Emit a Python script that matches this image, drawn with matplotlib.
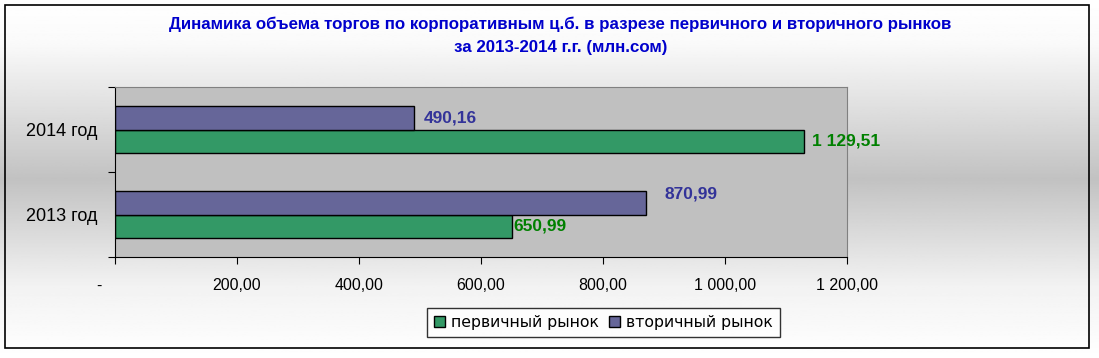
import matplotlib
matplotlib.use('Agg')
import matplotlib.pyplot as plt
import numpy as np
from matplotlib.patches import Rectangle

# data
years = ['2013 год', '2014 год']
primary = [650.99, 1129.51]     # первичный рынок
secondary = [870.99, 490.16]    # вторичный рынок
primary_lbl = ['650,99', '1 129,51']
secondary_lbl = ['870,99', '490,16']
xticks = [0, 200, 400, 600, 800, 1000, 1200]
xtick_lbl = ['-       ', '200,00', '400,00', '600,00', '800,00', '1 000,00', '1 200,00']

green = '#339966'
purple = '#666699'

plt.rcParams['font.family'] = ['Liberation Sans', 'DejaVu Sans']

fig = plt.figure(figsize=(10.99, 3.58), dpi=100)

# background gradient of the chart area
bg = fig.add_axes([0, 0, 1, 1], zorder=-10)
t = np.linspace(0, 1, 256)
shade = np.interp(t, [0, 0.12, 0.5, 0.8, 1], [1.0, 0.98, 0.76, 0.95, 1.0])
bg.imshow(np.tile(shade[:, None], (1, 2)), cmap='gray', vmin=0, vmax=1,
          aspect='auto', extent=[0, 1, 0, 1])
bg.set_xlim(0, 1)
bg.set_ylim(0, 1)
bg.axis('off')
bg.add_patch(Rectangle((0.005, 0.028), 0.986, 0.958, fill=False, ec='black', lw=1.2))

ax = fig.add_axes([0.1046, 0.282, 0.666, 0.475])
ax.set_facecolor('#c0c0c0')

y = np.arange(len(years))
h = 0.28
ax.barh(y - h / 2, primary, height=h, color=green, edgecolor='black', lw=1,
        label='первичный рынок')
ax.barh(y + h / 2, secondary, height=h, color=purple, edgecolor='black', lw=1,
        label='вторичный рынок')

# value labels
p_off = [(1, 0), (6, 0)]
s_off = [(13, 6), (7, 0)]
for i in range(len(years)):
    ax.annotate(primary_lbl[i], (primary[i], y[i] - h / 2), xytext=p_off[i],
                textcoords='offset points', ha='left', va='center',
                color='#008000', fontsize=12.5, fontweight='bold')
    ax.annotate(secondary_lbl[i], (secondary[i], y[i] + h / 2), xytext=s_off[i],
                textcoords='offset points', ha='left', va='center',
                color='#333399', fontsize=12.5, fontweight='bold')

ax.set_xlim(0, 1200)
ax.set_ylim(-0.5, 1.5)
ax.set_xticks(xticks)
ax.set_xticklabels(xtick_lbl, fontsize=11.5)
ax.set_yticks([-0.5, 0.5, 1.5])
ax.set_yticklabels([])
ax.set_yticks(y, minor=True)
ax.set_yticklabels(years, minor=True, fontsize=13)
ax.tick_params(axis='y', which='minor', length=0, pad=13)
ax.tick_params(axis='y', which='major', length=5, color='black')
ax.tick_params(axis='x', length=5, pad=10)

for side in ['top', 'right']:
    ax.spines[side].set_color('#808080')
for side in ['left', 'bottom']:
    ax.spines[side].set_color('black')

fig.text(0.5096, 0.933, 'Динамика объема торгов по корпоративным ц.б. в разрезе первичного и вторичного рынков',
         ha='center', va='center', color='#0000cc', fontsize=12.2, fontweight='bold')
fig.text(0.5105, 0.866, 'за 2013-2014 г.г. (млн.сом)',
         ha='center', va='center', color='#0000cc', fontsize=12.2, fontweight='bold')

leg = fig.legend(loc='center', bbox_to_anchor=(0.549, 0.098), ncol=2,
                 prop={'family': 'DejaVu Sans', 'size': 11.3},
                 frameon=True, fancybox=False, edgecolor='black',
                 handlelength=0.7, handleheight=0.7, handletextpad=0.4,
                 columnspacing=0.6, borderpad=0.45)
leg.get_frame().set_linewidth(1)
leg.get_frame().set_facecolor('white')

fig.savefig('out.png', dpi=100)
